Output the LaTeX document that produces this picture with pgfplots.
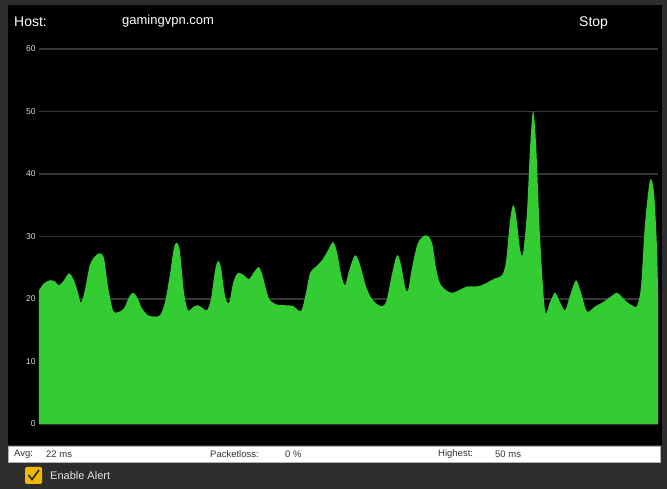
\documentclass[border=0pt]{standalone}
\usepackage{pgfplots}
\pgfplotsset{compat=1.18}
\usepackage{fontspec}
\setmainfont{Liberation Sans}
\definecolor{frame}{HTML}{2D2D2D}
\definecolor{gridc}{HTML}{363636}
\definecolor{pgreen}{HTML}{33CC33}
\definecolor{ticktxt}{HTML}{D8D8D8}
\definecolor{stattxt}{HTML}{333333}
\definecolor{chk}{HTML}{F2B705}
\begin{document}
\begin{tikzpicture}
\useasboundingbox (0,0) rectangle (667bp,489bp);
\fill[frame] (0,0) rectangle (667bp,489bp);
\fill[black] (8bp,44bp) rectangle (662bp,484bp);
\fill[white,draw=gray!60] (8bp,27bp) rectangle (660bp,43bp);
\node[anchor=west,text=white,font=\fontsize{14bp}{16bp}\selectfont,inner sep=0] at (14bp,467bp) {Host:};
\node[anchor=west,text=white,font=\fontsize{13bp}{15bp}\selectfont,inner sep=0] at (122bp,468bp) {gamingvpn.com};
\node[anchor=west,text=white,font=\fontsize{14bp}{16bp}\selectfont,inner sep=0] at (579bp,466bp) {Stop};
\begin{scope}[every node/.style={anchor=west,text=stattxt,font=\fontsize{9.5bp}{10bp}\selectfont,inner sep=0}]
\node at (14bp,34.5bp) {Avg:};
\node at (46bp,34.5bp) {22 ms};
\node at (210bp,34.5bp) {Packetloss:};
\node at (285bp,34.5bp) {0 \%};
\node at (438bp,34.5bp) {Highest:};
\node at (495bp,34.5bp) {50 ms};
\end{scope}
\fill[chk,rounded corners=1.5bp] (25bp,5bp) rectangle (42bp,22bp);
\draw[black!85,line width=1.6bp] (28.5bp,14bp) -- (32bp,9.5bp) -- (39bp,19bp);
\node[anchor=west,text=white!90!black,font=\fontsize{11bp}{13bp}\selectfont,inner sep=0] at (50bp,13bp) {Enable Alert};
\begin{axis}[
  at={(39bp,65bp)}, anchor=south west,
  scale only axis, width=619bp, height=375bp,
  xmin=39, xmax=658, ymin=0, ymax=60,
  xtick=\empty, ytick={0,10,...,60},
  axis line style={draw=none},
  major tick length=0pt,
  ymajorgrids, grid style={gridc,line width=1.6bp},
  /pgf/number format/assume math mode=true,
  yticklabel style={text=ticktxt,font=\fontsize{8.5bp}{10bp}\selectfont},
]
\addplot[fill=pgreen,draw=none,smooth,tension=0.5] coordinates {
(39,21.4)(44,22.5)(50,23.0)(55,22.8)(59,22.2)(64,23.0)(69,24.1)(74,23.0)(78,21.0)(81,19.4)
(85,21.5)(90,25.5)(96,27.0)(100,27.3)(104,26.5)(108,22.0)(113,18.2)(118,17.9)(124,18.5)(129,20.3)
(133,21.0)(137,20.3)(142,18.5)(148,17.4)(154,17.2)(160,17.4)(165,19.5)(170,24.0)(174,28.2)(177,29.0)
(180,27.5)(184,21.0)(188,18.2)(193,18.7)(198,19.0)(203,18.5)(207,18.2)(211,20.0)(215,24.5)(218,26.1)
(221,25.0)(225,20.5)(229,19.4)(233,22.5)(236,23.8)(239,24.2)(244,23.8)(249,23.2)(254,24.3)(259,25.1)
(263,23.5)(267,21.0)(270,19.8)(277,19.1)(285,19.0)(293,18.9)(301,18.1)(306,21.0)(310,24.1)(316,25.2)
(322,26.2)(328,27.8)(333,29.1)(337,27.5)(341,24.0)(345,22.2)(349,24.5)(355,27.0)(360,25.5)(366,22.0)
(372,20.0)(380,18.9)(386,19.5)(392,24.0)(397,27.0)(401,25.5)(405,22.0)(408,21.4)(412,25.0)(418,29.0)
(426,30.2)(432,29.0)(436,25.0)(440,22.5)(447,21.3)(453,21.0)(460,21.5)(467,22.0)(474,22.0)(480,22.1)
(488,22.7)(495,23.3)(502,23.8)(506,26.0)(510,32.5)(513,35.0)(516,33.5)(520,28.0)(523,27.3)(527,34.0)
(530,44.0)(533,50.1)(536,45.0)(540,30.0)(545,18.2)(550,19.5)(555,21.0)(560,19.5)(565,18.2)(570,20.5)
(576,23.0)(581,21.0)(587,18.0)(595,18.8)(603,19.5)(610,20.3)(617,21.0)(622,20.3)(627,19.5)(632,19.0)
(637,18.9)(641,22.0)(645,32.0)(650,39.0)(654,37.0)(657,28.0)(658,21.0)
} \closedcycle;
\end{axis}
\end{tikzpicture}
\end{document}
